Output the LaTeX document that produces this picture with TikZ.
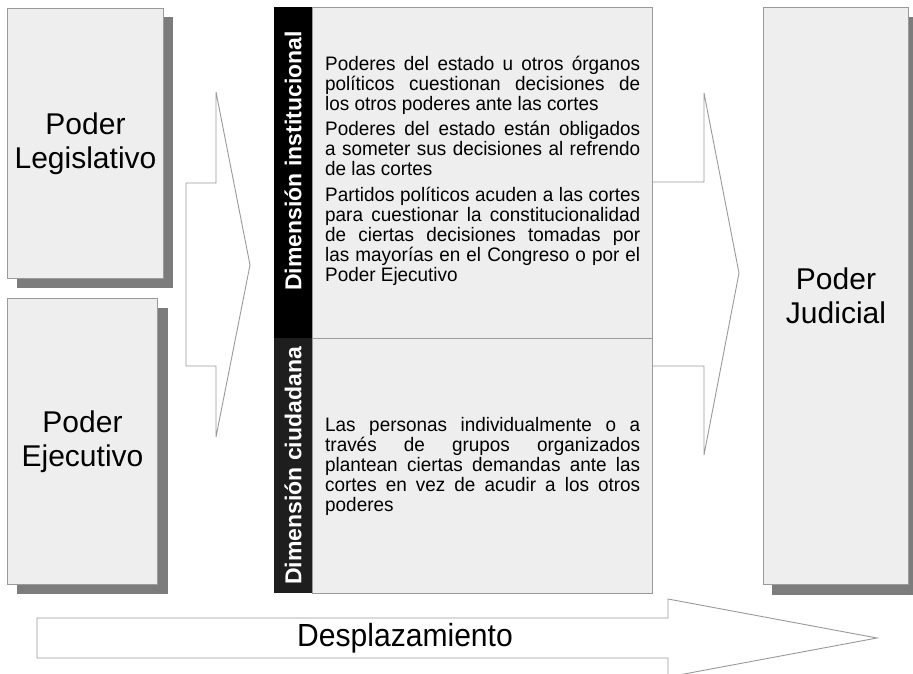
\documentclass[tikz,border=0pt]{standalone}
\usepackage{fontspec}
\setmainfont{Liberation Sans}
\newfontfamily\bodyfont[FakeStretch=0.97]{Liberation Sans}
\usepackage{graphicx}
\definecolor{boxfill}{HTML}{EEEEEE}
\definecolor{boxline}{HTML}{9A9A9A}
\definecolor{shadowc}{HTML}{7C7C7C}
\definecolor{barlow}{HTML}{1E1E1E}
\newcommand{\jline}[1]{\hbox to 315bp{#1}}
\newcommand{\lline}[1]{\hbox{#1}}
\tikzset{
  powerbox/.style={draw=boxline, fill=boxfill, line width=1bp, inner sep=0pt, anchor=north west,
    font=\fontsize{30bp}{34bp}\selectfont, align=center},
  shadowrect/.style={fill=shadowc, draw=none},
  arrowshape/.style={draw=boxline, fill=white, line width=0.9bp, line join=miter},
  panelcell/.style={draw=boxline, fill=boxfill, line width=1bp, inner sep=0pt, anchor=north west},
  barcell/.style={draw=none, inner sep=0pt, anchor=north west},
  barlabel/.style={font=\bfseries\fontsize{23bp}{25bp}\selectfont, text=white, rotate=90, inner sep=0pt},
  bodytext/.style={font=\bodyfont\fontsize{19.5bp}{20bp}\selectfont, inner sep=0pt, anchor=base west, text=black},
}
\begin{document}
\begin{tikzpicture}[x=1bp, y=-1bp]
\clip (0,0) rectangle (913,674);
\fill[white] (0,0) rectangle (913,674);

% shadows
\fill[shadowrect] (17,17) rectangle (173,288);
\fill[shadowrect] (17,308) rectangle (168,594);
\fill[shadowrect] (772,17) rectangle (920,595);

% side boxes
\node[powerbox, minimum width=156bp, minimum height=270bp] (leg) at (7,8) {Poder\\Legislativo};
\node[powerbox, minimum width=150bp, minimum height=286bp] (eje) at (7,298) {Poder\\Ejecutivo};
\node[powerbox, minimum width=145bp, minimum height=577bp] (jud) at (763,7) {Poder\\Judicial};

% arrows
\draw[arrowshape] (186,183) -- (216,183) -- (216,92) -- (250,265) -- (216,437) -- (216,366) -- (186,366) -- cycle;
\draw[arrowshape] (640,182) -- (704,182) -- (704,93) -- (739,273) -- (704,455) -- (704,366) -- (640,366) -- cycle;
\draw[arrowshape] (37,618) -- (668,618) -- (668,599) -- (877,638) -- (668,677) -- (668,658) -- (37,658) -- cycle;
\node[font=\fontsize{32bp}{34bp}\selectfont, inner sep=0pt] (desp) at (405,638) {\scalebox{0.94}[1]{Desplazamiento}};

% central panel
\node[panelcell, minimum width=340bp, minimum height=331bp] (inst) at (312,7) {};
\node[panelcell, minimum width=340bp, minimum height=255bp] (ciud) at (312,338) {};
\node[barcell, fill=black, minimum width=38bp, minimum height=331bp] (barI) at (274,7) {};
\node[barcell, fill=barlow, minimum width=38bp, minimum height=255bp] (barC) at (274,338) {};
\node[barlabel] (labI) at (293,161) {Dimensión institucional};
\node[barlabel] (labC) at (293,466) {Dimensión ciudadana};

\node[bodytext] (p1) at (325,71) {\vtop{%
  \jline{Poderes del estado u otros órganos}
  \jline{políticos cuestionan decisiones de}
  \lline{los otros poderes ante las cortes}}};
\node[bodytext] (p2) at (325,136) {\vtop{%
  \jline{Poderes del estado están obligados}
  \jline{a someter sus decisiones al refrendo}
  \lline{de las cortes}}};
\node[bodytext] (p3) at (325,201) {\vtop{%
  \jline{Partidos políticos acuden a las cortes}
  \jline{para cuestionar la constitucionalidad}
  \jline{de ciertas decisiones tomadas por}
  \jline{las mayorías en el Congreso o por el}
  \lline{Poder Ejecutivo}}};
\node[bodytext] (p4) at (325,431) {\vtop{%
  \jline{Las personas individualmente o a}
  \jline{través de grupos organizados}
  \jline{plantean ciertas demandas ante las}
  \jline{cortes en vez de acudir a los otros}
  \lline{poderes}}};
\end{tikzpicture}
\end{document}
